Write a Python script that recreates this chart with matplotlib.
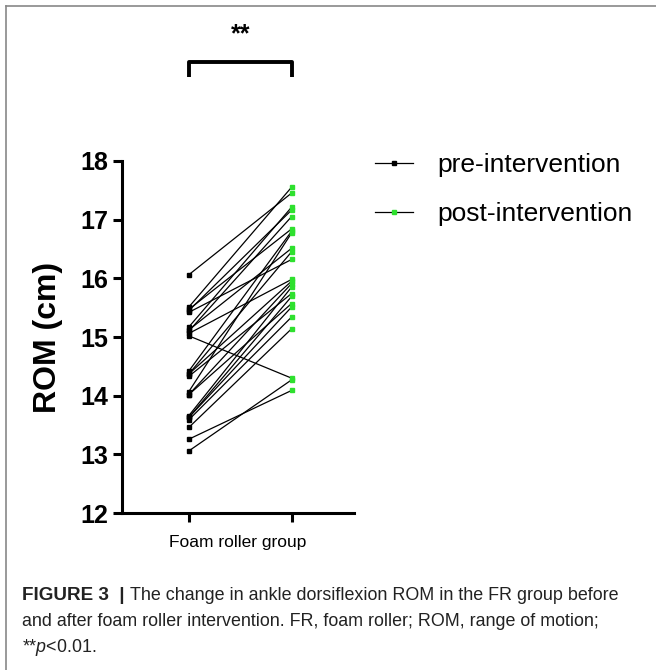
import matplotlib
matplotlib.use("Agg")
import matplotlib.pyplot as plt
from matplotlib.lines import Line2D

plt.rcParams['font.family'] = ['Liberation Sans', 'DejaVu Sans']
plt.rcParams['mathtext.fontset'] = 'custom'
plt.rcParams['mathtext.rm'] = 'Liberation Sans'
plt.rcParams['mathtext.it'] = 'Liberation Sans:italic'
plt.rcParams['mathtext.bf'] = 'Liberation Sans:bold'

# ROM (cm) per subject, pre and post foam roller intervention (paired)
pre = [16.06, 15.51, 15.47, 15.45, 15.42, 15.17, 15.12, 15.10, 15.06, 15.02,
       14.42, 14.37, 14.37, 14.33, 14.07, 14.02, 14.02,
       13.66, 13.63, 13.63, 13.59, 13.46, 13.26, 13.06]
post = [17.45, 17.55, 16.84, 17.16, 16.32, 17.21, 16.51, 17.05, 15.98, 14.30,
        16.80, 15.95, 16.45, 15.74, 16.77, 15.57, 15.91,
        15.85, 15.69, 15.51, 15.34, 15.14, 14.09, 14.27]

group = "Foam roller group"
series_labels = ["pre-intervention", "post-intervention"]
yticks = [12, 13, 14, 15, 16, 17, 18]
green = "#2ee02e"

fig = plt.figure(figsize=(6.56, 6.70), dpi=100)
ax = fig.add_axes([0.186, 0.234, 0.354, 0.526])

for a, b in zip(pre, post):
    ax.plot([0, 1], [a, b], color="black", lw=0.9, zorder=2)
ax.plot([0] * len(pre), pre, ls="none", marker="s", ms=3, color="black", zorder=3)
ax.plot([1] * len(post), post, ls="none", marker="s", ms=3, color=green, zorder=3)

ax.set_xlim(-0.65, 1.61)
ax.set_ylim(12, 18)
ax.set_yticks(yticks)
ax.set_xticks([0, 1])
ax.set_xticklabels(["", ""])
ax.set_xlabel(group, fontsize=12.5, labelpad=6)
ax.set_ylabel("ROM (cm)", fontsize=23, fontweight="bold")
ax.yaxis.set_label_coords(-0.255, 0.5)

for s in ["top", "right"]:
    ax.spines[s].set_visible(False)
for s in ["left", "bottom"]:
    ax.spines[s].set_linewidth(2.2)
ax.tick_params(width=2.2, length=6.5, direction="out")
ax.tick_params(axis="y", labelsize=18)
for t in ax.get_yticklabels():
    t.set_fontweight("bold")

# significance bracket
ax.plot([0, 0, 1, 1], [19.42, 19.68, 19.68, 19.42], color="black", lw=2.8,
        clip_on=False, solid_capstyle="butt")
ax.text(0.5, 20.15, "**", ha="center", va="center", fontsize=18, fontweight="bold")

handles = [
    Line2D([], [], color="black", lw=0.9, marker="s", ms=2.5),
    Line2D([], [], color="black", lw=0.9, marker="s", ms=2.5,
           markerfacecolor=green, markeredgecolor=green),
]
fig.legend(handles, series_labels, loc="upper left",
           bbox_to_anchor=(375 / 656, 1 - 153 / 670), frameon=False,
           fontsize=19, handlelength=1.45, handletextpad=0.9,
           labelspacing=0.95, borderpad=0, borderaxespad=0)

# caption
cap_kw = dict(fontsize=12.9, color="#222222", va="center")
x0 = 0.034
y1 = 1 - 596 / 670
head = fig.text(x0, y1, "FIGURE 3  |", fontsize=13.6, fontweight="bold", color="#222222", va="center")
fig.canvas.draw()
bb = head.get_window_extent().transformed(fig.transFigure.inverted())
fig.text(bb.x1 + 0.008, y1,
         "The change in ankle dorsiflexion ROM in the FR group before", **cap_kw)
fig.text(x0, 1 - 622 / 670,
         "and after foam roller intervention. FR, foam roller; ROM, range of motion;", **cap_kw)
fig.text(x0, 1 - 647 / 670, r"**$\it{p}$<0.01.", **cap_kw)

# frame lines at top and left
fig.add_artist(Line2D([0.009, 1], [0.991, 0.991], color="#888888", lw=1.2))
fig.add_artist(Line2D([0.009, 0.009], [0, 0.991], color="#888888", lw=1.2))

fig.savefig("out.png", dpi=100)
